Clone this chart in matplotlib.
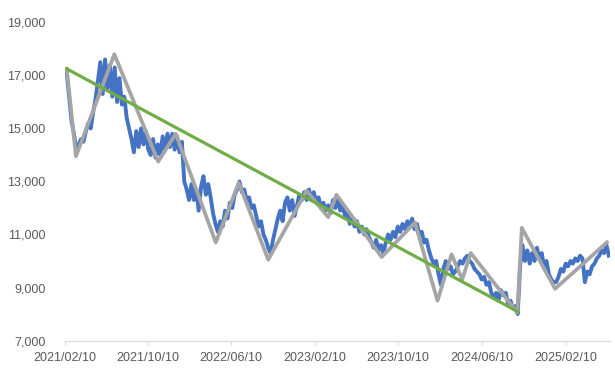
import numpy as np
import pandas as pd
import matplotlib
matplotlib.use("Agg")
import matplotlib.pyplot as plt
from matplotlib.ticker import FuncFormatter

# daily index (blue), read off roughly once a week
price_start = "2021-02-15"
price = [
    17100, 16200, 15300, 14800, 14200, 14400, 14600, 14500, 14900, 15200,
    15000, 15600, 16100, 16800, 17500, 16300, 17600, 16500, 17400, 16200,
    17300, 16000, 16900, 15900, 16200, 15400, 15000, 14600, 14100, 14900,
    14300, 15000, 14400, 14900, 14200, 14000, 14600, 13900, 14400, 14000,
    14700, 14200, 14800, 14300, 14800, 14200, 14700, 14100, 14500, 13000,
    12700, 12300, 12900, 12300, 12700, 11900, 12800, 13200, 12500, 12900,
    12400, 11800, 11400, 11100, 11500, 11300, 11900, 11600, 12200, 12000,
    12500, 12700, 13000, 12600, 12700, 12300, 12400, 12000, 12100, 11700,
    11300, 11500, 11000, 10800, 10500, 10300, 10800, 11200, 11600, 11900,
    11500, 12200, 12400, 11900, 12300, 11700, 12100, 12500, 12300, 12600,
    12300, 12700, 12300, 12600, 12200, 12400, 12000, 12200, 11900, 12100,
    11800, 12300, 12000, 12350, 11900, 12100, 11700, 11800, 11400, 11600,
    11300, 11500, 11100, 11300, 11000, 11200, 10900, 10700, 10500, 10800,
    10400, 10600, 10300, 10700, 11000, 10800, 11100, 10900, 11300, 11100,
    11400, 11200, 11500, 11300, 11600, 11200, 11400, 11000, 11100, 10700,
    10800, 10400, 10100, 9900, 10000, 9500, 9100, 9700, 10000, 9700,
    9800, 9500, 9600, 9800, 10000, 9900, 10100, 10200, 10000, 9900,
    9700, 9600, 9500, 9300, 9400, 9100, 9200, 8800, 8600, 8800,
    8500, 8900, 8700, 8800, 8400, 8500, 8200, 8300, 8000, 9800,
    10600, 10000, 10400, 9900, 10300, 10000, 10500, 10100, 10300, 9800,
    10000, 9500, 9300, 9200, 9200, 9400, 9700, 9600, 9900, 9800,
    10000, 9900, 10100, 10000, 10200, 10100, 9200, 9600, 9500, 9800,
    9900, 10100, 10200, 10400, 10300, 10600, 10200,
]

# zigzag of swing highs/lows (grey)
zz_dates = ["2021-02-15", "2021-03-14", "2021-07-04", "2021-11-09", "2021-12-30",
            "2022-04-26", "2022-07-02", "2022-09-26", "2023-01-16", "2023-03-20",
            "2023-04-13", "2023-08-23", "2023-11-28", "2024-02-02", "2024-03-14",
            "2024-04-14", "2024-05-09", "2024-09-22", "2024-10-05", "2025-01-10",
            "2025-06-10"]
zz_vals = [17250, 13950, 17800, 13750, 14800, 10700, 12950, 10050, 12650, 11650,
           12500, 10150, 11450, 8500, 10250, 9300, 10300, 8050, 11250, 8950,
           10700]

# trend line (green)
trend_dates = ["2021-02-15", "2024-09-22"]
trend_vals = [17250, 8100]

tick_labels = ["2021/02/10", "2021/10/10", "2022/06/10", "2023/02/10",
               "2023/10/10", "2024/06/10", "2025/02/10"]

plt.rcParams['font.family'] = ['Liberation Sans', 'DejaVu Sans']

price_dates = pd.date_range(price_start, periods=len(price), freq="7D")

fig = plt.figure(figsize=(6.15, 3.69), dpi=100)
ax = fig.add_axes([0.1057, 0.0772, 0.886, 0.862])

ax.plot(price_dates, price, color="#4472C4", lw=2.8, zorder=2)
ax.plot(pd.to_datetime(zz_dates), zz_vals, color="#A5A5A5", lw=2.7, zorder=3)
ax.plot(pd.to_datetime(trend_dates), trend_vals, color="#70AD47", lw=2.3, zorder=4)

ax.set_ylim(7000, 19000)
ax.set_yticks(np.arange(7000, 19001, 2000))
ax.yaxis.set_major_formatter(FuncFormatter(lambda v, p: "{:,.0f}".format(v)))
ax.set_xlim(pd.Timestamp("2021-02-10"), pd.Timestamp("2025-06-19"))
ticks = pd.to_datetime([t.replace("/", "-") for t in tick_labels])
ax.set_xticks(ticks)
ax.set_xticklabels(tick_labels)

for s in ["top", "right", "left"]:
    ax.spines[s].set_visible(False)
ax.spines["bottom"].set_color("#d9d9d9")
ax.tick_params(axis="y", length=0, pad=14, labelsize=9, labelcolor="#595959")
ax.tick_params(axis="x", length=3, color="#d9d9d9", pad=5, labelsize=9, labelcolor="#595959")

fig.savefig("out.png", dpi=100)
